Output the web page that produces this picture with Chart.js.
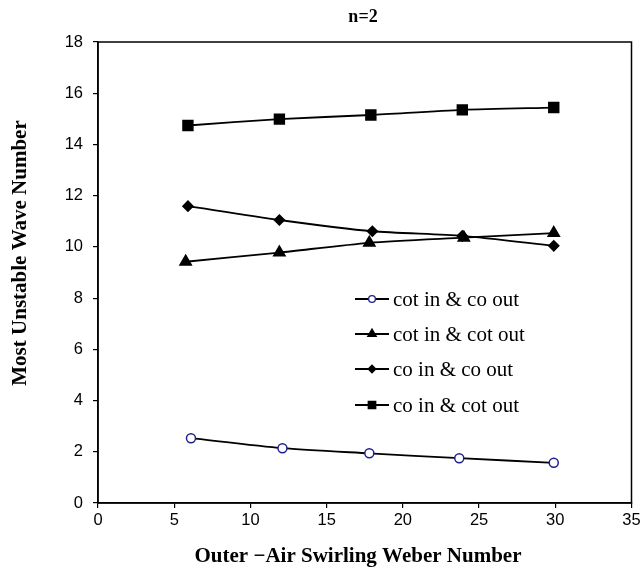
<!DOCTYPE html>
<html>
<head>
<meta charset="utf-8">
<script src="https://cdn.jsdelivr.net/npm/chart.js@4/dist/chart.umd.min.js"></script>
<style>
  html, body { margin: 0; padding: 0; background: #fff; }
  #wrap { width: 640px; height: 571px; }
</style>
</head>
<body>
<div id="wrap"><canvas id="waveChart"></canvas></div>
<script>
// data
const seriesNames = ['cot in & co out', 'cot in & cot out', 'co in & co out', 'co in & cot out'];
const cotCoX = [6.1, 12.1, 17.8, 23.7, 29.9];
const cotCoY = [2.53, 2.14, 1.94, 1.75, 1.57];
const cotCotX = [5.75, 11.9, 17.8, 24.0, 29.9];
const cotCotY = [9.42, 9.78, 10.16, 10.36, 10.54];
const coCoX = [5.9, 11.9, 18.0, 23.9, 29.9];
const coCoY = [11.59, 11.05, 10.61, 10.43, 10.04];
const coCotX = [5.9, 11.9, 17.9, 23.9, 29.9];
const coCotY = [14.74, 14.99, 15.15, 15.35, 15.44];
const xTicks = [0, 5, 10, 15, 20, 25, 30, 35];
const yTicks = [0, 2, 4, 6, 8, 10, 12, 14, 16, 18];

const toPoints = (xs, ys) => xs.map((x, i) => ({ x: x, y: ys[i] }));

const styles = [
    { pointStyle: 'circle', radius: 4.5, fill: '#ffffff', stroke: '#1f1f8f' },
    { pointStyle: 'triangle', radius: 6.5, fill: '#000000', stroke: '#000000' },
    { pointStyle: 'rectRot', radius: 5, fill: '#000000', stroke: '#000000' },
    { pointStyle: 'rect', radius: 7, fill: '#000000', stroke: '#000000' }
];
const allPoints = [toPoints(cotCoX, cotCoY), toPoints(cotCotX, cotCotY), toPoints(coCoX, coCoY), toPoints(coCotX, coCotY)];

const datasets = seriesNames.map((name, i) => ({
    label: name,
    data: allPoints[i],
    borderColor: '#000000',
    borderWidth: 1.8,
    tension: 0.25,
    pointStyle: styles[i].pointStyle,
    pointRadius: styles[i].radius,
    pointBackgroundColor: styles[i].fill,
    pointBorderColor: styles[i].stroke,
    pointBorderWidth: 1.5,
    fill: false
}));

// frame, titles and legend
const decorPlugin = {
    id: 'decor',
    afterDatasetsDraw(chart) {
        const ctx = chart.ctx;
        const a = chart.chartArea;
        ctx.save();
        ctx.strokeStyle = '#000';
        ctx.lineWidth = 1.5;
        ctx.strokeRect(a.left, a.top, a.right - a.left, a.bottom - a.top);

        ctx.fillStyle = '#000';
        ctx.textAlign = 'center';
        ctx.textBaseline = 'middle';
        ctx.font = 'bold 18px "Liberation Serif"';
        ctx.fillText('n=2', 363, 17);

        ctx.font = 'bold 21px "Liberation Serif"';
        ctx.fillText('Outer \u2212Air Swirling Weber Number', 358, 557);

        ctx.translate(21, 253);
        ctx.rotate(-Math.PI / 2);
        ctx.fillText('Most Unstable Wave Number', 0, 0);
        ctx.restore();

        // legend inside the plot
        ctx.save();
        ctx.font = '21px "Liberation Serif"';
        ctx.textAlign = 'left';
        ctx.textBaseline = 'middle';
        const rows = [299, 334, 369, 405];
        seriesNames.forEach((name, i) => {
            const y = rows[i];
            ctx.strokeStyle = '#000';
            ctx.lineWidth = 1.8;
            ctx.beginPath();
            ctx.moveTo(355, y);
            ctx.lineTo(389, y);
            ctx.stroke();
            ctx.fillStyle = styles[i].fill;
            ctx.strokeStyle = styles[i].stroke;
            ctx.lineWidth = 1.3;
            Chart.helpers.drawPoint(ctx, {
                pointStyle: styles[i].pointStyle,
                radius: styles[i].radius * 0.75,
                rotation: 0,
                borderWidth: 1.3
            }, 372, y);
            ctx.fillStyle = '#000';
            ctx.fillText(name, 393, y + 1);
        });
        ctx.restore();
    }
};

const ctx = document.getElementById('waveChart').getContext('2d');
new Chart(ctx, {
    type: 'line',
    data: { datasets: datasets },
    options: {
        responsive: true,
        maintainAspectRatio: false,
        animation: false,
        layout: { padding: { top: 42, right: 0, left: 0, bottom: 0 } },
        plugins: {
            legend: { display: false },
            tooltip: { enabled: false }
        },
        scales: {
            x: {
                type: 'linear',
                min: 0,
                max: 35,
                afterBuildTicks: (scale) => { scale.ticks = xTicks.map(v => ({ value: v })); },
                afterFit: (scale) => { scale.height = 68; scale.paddingRight = 8; scale.paddingLeft = 0; },
                grid: { drawOnChartArea: false, drawTicks: true, tickLength: 5, color: '#000', lineWidth: 1.2 },
                border: { display: true, color: '#000', width: 1.5 },
                ticks: { color: '#000', padding: 3, font: { family: '"Liberation Sans"', size: 16.5 }, maxRotation: 0 }
            },
            y: {
                min: 0,
                max: 18,
                afterBuildTicks: (scale) => { scale.ticks = yTicks.map(v => ({ value: v })); },
                afterFit: (scale) => { scale.width = 98; },
                grid: { drawOnChartArea: false, drawTicks: true, tickLength: 5, color: '#000', lineWidth: 1.2 },
                border: { display: true, color: '#000', width: 1.5 },
                ticks: { color: '#000', padding: 10, font: { family: '"Liberation Sans"', size: 16.5 } }
            }
        }
    },
    plugins: [decorPlugin]
});
</script>
</body>
</html>
